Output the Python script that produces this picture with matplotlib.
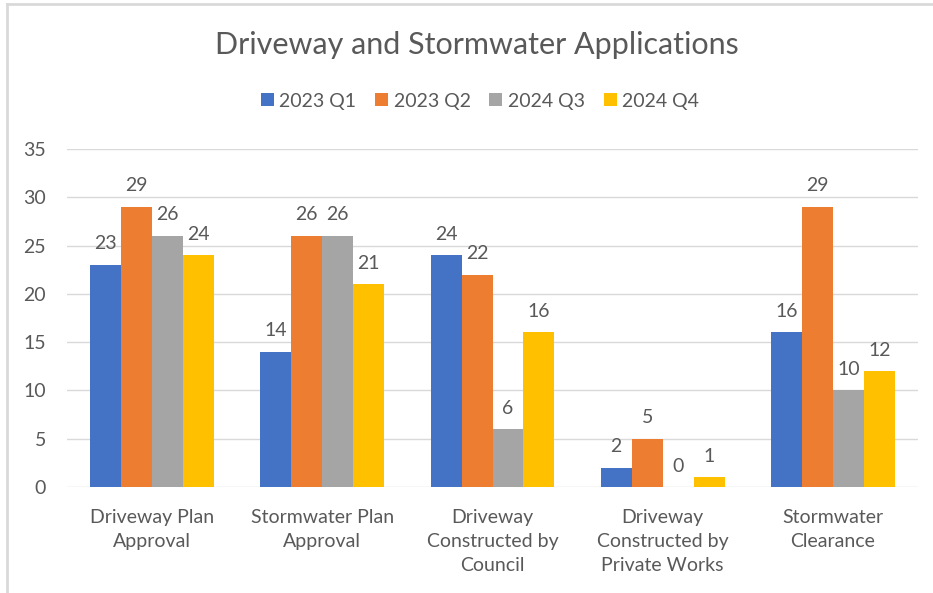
import numpy as np
import matplotlib.pyplot as plt
from matplotlib.lines import Line2D

categories = ["Driveway Plan\nApproval", "Stormwater Plan\nApproval", "Driveway\nConstructed by\nCouncil",
              "Driveway\nConstructed by\nPrivate Works", "Stormwater\nClearance"]
series_names = ["2023 Q1", "2023 Q2", "2024 Q3", "2024 Q4"]
q1_2023 = [23, 14, 24, 2, 16]
q2_2023 = [29, 26, 22, 5, 29]
q3_2024 = [26, 26, 6, 0, 10]
q4_2024 = [24, 21, 16, 1, 12]
colors = ["#4472C4", "#ED7D31", "#A5A5A5", "#FFC000"]

plt.rcParams['font.family'] = ['Lato', 'DejaVu Sans']
txt = "#595959"
fs = 14

fig = plt.figure(figsize=(9.33, 5.93), dpi=100)
ax = fig.add_axes([67 / 933, 1 - 487 / 593, 851 / 933, 338 / 593])

x = np.arange(len(categories))
w = 0.182
for i, (name, vals) in enumerate(zip(series_names, [q1_2023, q2_2023, q3_2024, q4_2024])):
    bars = ax.bar(x + (i - 1.5) * w, vals, w, color=colors[i], label=name, zorder=3)
    ax.bar_label(bars, padding=9, color=txt, fontsize=fs)

ax.set_xlim(-0.5, len(categories) - 0.5)
ax.set_ylim(0, 35)
ax.set_yticks(range(0, 36, 5))
ax.set_xticks(x)
ax.set_xticklabels(categories, color=txt, fontsize=fs, linespacing=1.5)
ax.tick_params(axis='y', colors=txt, labelsize=fs, length=0, pad=15)
ax.tick_params(axis='x', length=0, pad=16)
ax.grid(axis='y', color="#D9D9D9", linewidth=1, zorder=0)
for s in ax.spines.values():
    s.set_visible(False)

fig.text(477 / 933, 1 - 45 / 593, "Driveway and Stormwater Applications", ha='center', va='center',
         fontsize=22, color=txt)
fig.legend(loc='center', bbox_to_anchor=(480 / 933, 1 - 101 / 593), ncol=4, frameon=False,
           fontsize=fs, labelcolor=txt, handlelength=0.67, handleheight=0.67, handletextpad=0.3,
           columnspacing=0.95)

# chart border
fig.add_artist(Line2D([7 / 933, 7 / 933], [0, 1 - 4 / 593], color="#D9D9D9", linewidth=2, transform=fig.transFigure))
fig.add_artist(Line2D([7 / 933, 1], [1 - 4 / 593, 1 - 4 / 593], color="#D9D9D9", linewidth=2, transform=fig.transFigure))

fig.savefig("out.png", dpi=100)
